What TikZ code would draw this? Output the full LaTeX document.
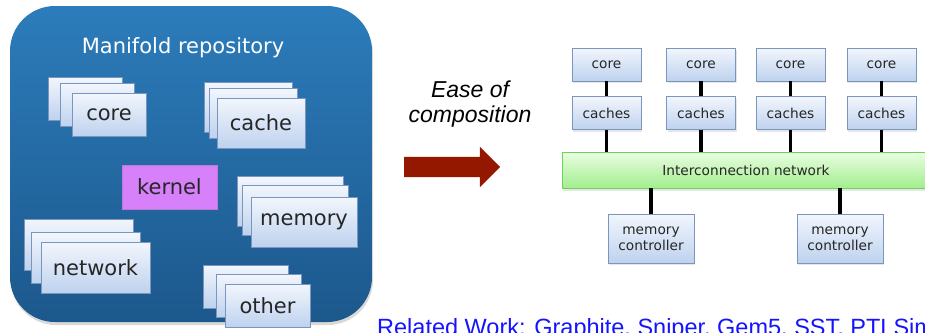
\documentclass[tikz,border=0pt]{standalone}
\usepackage{fontspec}
\setmainfont{DejaVu Sans}
\newfontfamily\arialfont{Liberation Sans}
\usepackage{xcolor}
\usepackage{tikz}
\usetikzlibrary{positioning,shadows,shapes.arrows}

\definecolor{repotop}{RGB}{44,124,187}
\definecolor{repobot}{RGB}{28,88,140}
\definecolor{boxtop}{RGB}{242,246,253}
\definecolor{boxbot}{RGB}{190,210,238}
\definecolor{boxline}{RGB}{122,150,190}
\definecolor{kernelfill}{RGB}{214,128,250}
\definecolor{kernelline}{RGB}{190,120,220}
\definecolor{nettop}{RGB}{234,253,226}
\definecolor{netbot}{RGB}{162,238,142}
\definecolor{netline}{RGB}{108,212,90}
\definecolor{arrowred}{RGB}{148,24,0}
\definecolor{relblue}{RGB}{20,20,255}

\begin{document}
\begin{tikzpicture}[x=1pt, y=-1pt,
  box/.style={draw=boxline, top color=boxtop, bottom color=boxbot,
              inner sep=0pt, align=center, text=black!85},
  big/.style={box, font=\fontsize{21}{24}\selectfont},
  stack/.style n args={4}{big,
     general shadow={shadow xshift=#3pt, shadow yshift=#4pt, draw=boxline,
                     top color=boxtop, bottom color=boxbot},
     general shadow={shadow xshift=#1pt, shadow yshift=#2pt, draw=boxline,
                     top color=boxtop, bottom color=boxbot}},
  small/.style={box, minimum width=69pt, minimum height=33pt,
                font=\fontsize{13.7}{16}\selectfont,
                drop shadow={shadow xshift=1pt, shadow yshift=-2pt, opacity=0.2}},
  link/.style={line width=3.5pt, black},
]
\useasboundingbox (0,0) rectangle (925,332);
\clip (0,0) rectangle (925,332);

% ====== Left: repository of components ======
\node[rounded corners=45pt, top color=repotop, bottom color=repobot,
      minimum width=362pt, minimum height=316pt, inner sep=0pt,
      drop shadow={shadow xshift=1pt, shadow yshift=-3pt, opacity=0.3}]
      (repo) at (191,164) {};
\node[text=white, font=\fontsize{21}{24}\selectfont] (title) at (183,48) {Manifold repository};

\node[stack={-12}{10}{-24}{16}, minimum width=74pt, minimum height=43pt]
     (core) at (109,114.5) {core};
\node[stack={-8}{10}{-13}{16}, minimum width=88pt, minimum height=50pt]
     (cache) at (261,123) {cache};
\node[big, top color=kernelfill, bottom color=kernelfill, draw=kernelline,
      minimum width=95pt, minimum height=44pt]
     (kernel) at (169.5,187) {kernel};
\node[stack={-9}{12}{-14}{21}, minimum width=106pt, minimum height=50pt]
     (memory) at (304,222) {memory};
\node[stack={-10}{10}{-17}{23}, minimum width=109pt, minimum height=51pt]
     (network) at (95.5,267.5) {network};
\node[stack={-9}{10}{-22}{19}, minimum width=85pt, minimum height=43pt]
     (other) at (267.5,305.5) {other};

% ====== Middle: arrow ======
\node[font=\arialfont\itshape\fontsize{23}{25}\selectfont, align=center]
     (ease) at (470,104) {Ease of\\composition};
\node[single arrow, fill=arrowred, inner sep=10pt, minimum height=96pt,
      single arrow head extend=10pt, single arrow head indent=0pt]
     (go) at (447,167) {};

% ====== Right: composed system ======
\node[box, top color=nettop, bottom color=netbot, draw=netline,
      minimum width=368pt, minimum height=36pt, font=\fontsize{13.7}{16}\selectfont,
      drop shadow={shadow xshift=1pt, shadow yshift=-3pt, opacity=0.2}]
     (net) at (746,170) {Interconnection network};
\foreach \i/\x in {1/606.5, 2/701, 3/790.5, 4/881.5} {
  \node[small] (core\i) at (\x,64.5) {core};
  \node[small] (cache\i) at (\x,113) {caches};
  \draw[link] (core\i) -- (cache\i);
  \draw[link] (cache\i.south) -- (cache\i.south |- net.north);
}
\node[small, minimum width=86pt, minimum height=49pt] (mc1) at (651,238.5) {memory\\controller};
\node[small, minimum width=86pt, minimum height=49pt] (mc2) at (840,238.5) {memory\\controller};
\draw[link] (mc1.north |- net.south) -- (mc1);
\draw[link] (mc2.north |- net.south) -- (mc2);

% related work line, cut by the frame
\node[anchor=base west, inner sep=0pt, text=relblue,
      font=\arialfont\fontsize{23.5}{26}\selectfont]
     (related) at (377,335) {Related Work: Graphite, Sniper, Gem5, SST, PTLSim};

\end{tikzpicture}
\end{document}
